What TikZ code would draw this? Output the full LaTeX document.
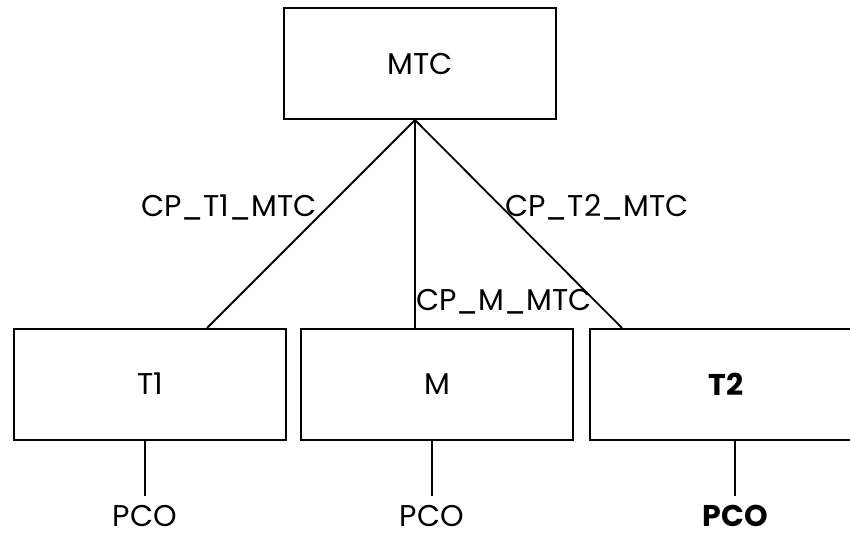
\documentclass[tikz,border=0pt]{standalone}
\usepackage{fontspec}
\setmainfont{Poppins}
\usepackage{tikz}
\usetikzlibrary{positioning}

\tikzset{
  unitbox/.style={draw, line width=2pt, minimum width=272pt,
    minimum height=111pt, inner sep=0pt, font=\fontsize{30}{34}\selectfont},
  pcolabel/.style={inner sep=0pt, outer sep=9pt, font=\fontsize{30}{34}\selectfont},
  cplabel/.style={inner sep=0pt, font=\fontsize{30}{34}\selectfont},
  link/.style={line width=1.8pt}
}

\begin{document}
\begin{tikzpicture}[x=1pt, y=-1pt, text=black]
\useasboundingbox (0,0) rectangle (850,537);

% controller on top
\path (420,64) node (mtc) [unitbox] {MTC};

% the three units
\path (150,384) node (tone) [unitbox] {T1};
\path (437,384) node (mid) [unitbox] {M};
\path (726,384) node (ttwo) [unitbox] {\bfseries T2};

% points of connection
\path (145,516) node (pcoa) [pcolabel] {PCO};
\path (432,516) node (pcob) [pcolabel] {PCO};
\path (735,516) node (pcoc) [pcolabel] {\bfseries PCO};

\coordinate (hub) at (415,120);
\coordinate (toneup) at (207,328);
\coordinate (midup) at (415,328);
\coordinate (ttwoup) at (622,328);

\draw [link] (hub) -- (toneup);
\draw [link] (hub) -- (midup);
\draw [link] (hub) -- (ttwoup);

\coordinate (tonedn) at (145,440);
\coordinate (middn) at (432,440);
\coordinate (ttwodn) at (735,440);
\draw [link] (tonedn) -- (tonedn |- pcoa.north);
\draw [link] (middn) -- (middn |- pcob.north);
\draw [link] (ttwodn) -- (ttwodn |- pcoc.north);

% labels of the links
\path (229,207) node (cpone) [cplabel] {CP\_T1\_MTC};
\path (597,207) node (cptwo) [cplabel] {CP\_T2\_MTC};
\path (416,302) node (cpmid) [cplabel, anchor=west] {CP\_M\_MTC};
\end{tikzpicture}
\end{document}
